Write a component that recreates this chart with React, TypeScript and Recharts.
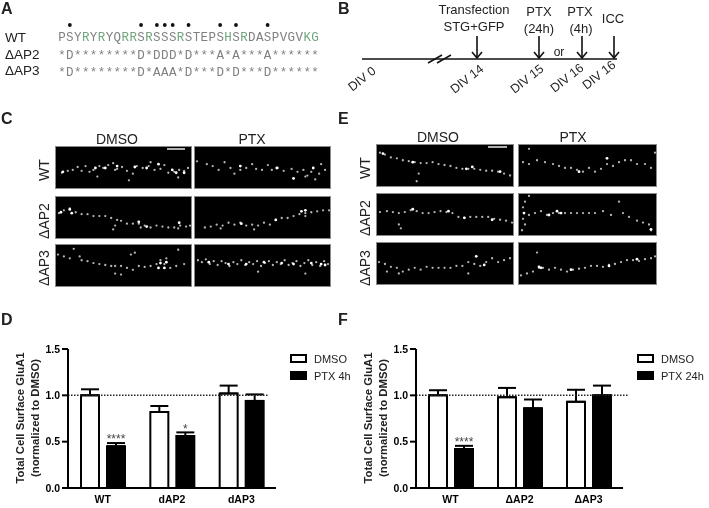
import { Bar, BarChart, ErrorBar, LabelList, Legend, ReferenceLine, Scatter, ScatterChart, XAxis, YAxis } from "recharts";

const FONT = "'Liberation Sans', Arial, sans-serif";

// panel A
const WT_SEQ = "PSYRYRYQRRSRSSSRSTEPSHSRDASPVGVKG";
const AP2_SEQ = "*D********D*DDD*D***A*A***A******";
const AP3_SEQ = "*D********D*AAA*D***D*D***D******";
const WT_GREEN = [3, 5, 8, 9, 11, 15, 21, 23, 31, 32];
const PHOSPHO_SITES = [1, 10, 12, 13, 14, 16, 20, 22, 26];

// panel D
const CATS_D = ["WT", "dAP2", "dAP3"];
const DMSO_D = [1.0, 0.82, 1.02];
const DMSO_ERR_D = [0.065, 0.065, 0.085];
const PTX_D = [0.45, 0.56, 0.94];
const PTX_ERR_D = [0.035, 0.04, 0.07];
const SIG_D = ["****", "*", ""];

// panel F
const CATS_F = ["WT", "ΔAP2", "ΔAP3"];
const DMSO_F = [1.0, 0.98, 0.93];
const DMSO_ERR_F = [0.055, 0.1, 0.13];
const PTX_F = [0.42, 0.86, 1.0];
const PTX_ERR_F = [0.035, 0.095, 0.105];
const SIG_F = ["****", "", ""];

const Y_TICKS = [0, 0.5, 1, 1.5];

// micrograph puncta in panel pixels
type Pt = number[];
const C_WT_DMSO: Pt[] = [[6,27],[12,25],[17,24],[22,21],[26,25],[30,20],[34,26],[38,24],[42,31],[44,20],[48,22],[53,19],[58,17],[62,23],[67,21],[72,25],[78,28],[82,20],[88,22],[94,20],[100,24],[106,23],[110,19],[114,27],[120,26],[125,24],[130,25],[134,22],[60,24],[96,16],[124,32],[74,35]];
const C_WT_DMSO_HI: Pt[] = [[7,26],[40,22],[50,22],[62,20],[80,21],[92,22],[104,18],[118,24],[122,27],[130,27]];
const C_WT_PTX: Pt[] = [[2,15],[12,18],[18,20],[24,24],[30,16],[36,22],[40,28],[46,24],[52,22],[58,18],[62,23],[68,24],[74,19],[78,24],[84,22],[90,25],[98,23],[104,26],[110,24],[114,30],[118,26],[122,34],[126,28],[128,18],[132,24],[112,31]];
const C_WT_PTX_HI: Pt[] = [[83,22],[120,22],[100,33],[46,20]];
const C_AP2_DMSO: Pt[] = [[3,17],[8,14],[14,12],[20,16],[26,18],[32,18],[38,20],[44,20],[50,20],[56,22],[62,24],[66,25],[72,28],[78,28],[84,28],[90,30],[96,32],[102,30],[108,31],[114,32],[120,32],[126,30],[132,31],[136,30],[60,30],[58,34],[86,32],[124,33]];
const C_AP2_DMSO_HI: Pt[] = [[14,13],[16,17],[84,26],[92,31],[125,27],[5,16]];
const C_AP2_PTX: Pt[] = [[10,32],[16,31],[22,29],[28,30],[34,27],[40,29],[46,27],[52,30],[58,29],[64,30],[70,27],[76,29],[82,24],[88,22],[94,22],[100,20],[106,18],[112,17],[118,16],[124,15],[130,14],[136,14],[26,33],[60,34],[112,20]];
const C_AP2_PTX_HI: Pt[] = [[47,28],[82,24],[108,15],[112,14]];
const C_AP3_DMSO: Pt[] = [[2,10],[8,12],[14,14],[18,4],[24,12],[26,16],[32,17],[38,19],[44,20],[50,21],[56,22],[60,22],[66,22],[72,24],[78,26],[84,22],[90,23],[96,22],[102,20],[106,16],[110,20],[112,14],[116,24],[122,22],[130,20],[80,8],[76,10],[60,30],[66,31],[124,5]];
const C_AP3_DMSO_HI: Pt[] = [[106,19],[110,24],[104,24],[112,18]];
const C_AP3_PTX: Pt[] = [[3,16],[7,18],[11,15],[15,20],[19,17],[23,21],[27,17],[31,19],[35,22],[39,18],[43,20],[47,16],[51,21],[55,18],[59,20],[63,17],[67,22],[71,19],[75,17],[79,21],[83,18],[87,20],[91,16],[95,21],[99,19],[103,17],[107,22],[111,19],[115,16],[119,21],[123,18],[127,22],[131,17],[135,20],[64,28],[112,30]];
const C_AP3_PTX_HI: Pt[] = [[14,18],[34,20],[52,20],[70,18],[88,19],[100,20],[118,19],[128,20],[132,21]];
const E_WT_DMSO: Pt[] = [[3,8],[8,10],[14,13],[20,14],[26,16],[32,17],[38,18],[44,19],[50,19],[56,18],[62,20],[68,21],[74,22],[80,24],[86,25],[92,25],[98,25],[104,26],[110,27],[116,27],[122,28],[128,30],[134,32],[42,30],[40,38]];
const E_WT_DMSO_HI: Pt[] = [[6,9],[36,18],[96,23],[124,28],[90,25]];
const E_WT_PTX: Pt[] = [[4,18],[10,20],[18,16],[26,18],[34,20],[40,22],[46,24],[52,24],[58,26],[64,28],[70,24],[76,28],[82,25],[88,20],[94,22],[100,18],[106,16],[112,16],[118,20],[126,20],[132,24],[10,4],[136,8]];
const E_WT_PTX_HI: Pt[] = [[60,28],[88,14]];
const E_AP2_DMSO: Pt[] = [[3,19],[10,18],[16,19],[22,20],[28,19],[34,17],[40,18],[46,20],[52,20],[58,19],[64,18],[70,19],[76,20],[82,24],[88,25],[94,24],[100,24],[106,24],[112,24],[118,26],[124,27],[130,28],[136,30],[22,32],[24,36]];
const E_AP2_DMSO_HI: Pt[] = [[36,16],[72,18],[88,25],[116,27]];
const E_AP2_PTX: Pt[] = [[10,2],[6,8],[4,14],[5,20],[4,26],[6,32],[3,38],[10,22],[16,20],[22,18],[28,22],[34,20],[40,20],[46,20],[52,20],[58,20],[64,20],[70,20],[76,20],[84,18],[92,22],[100,8],[104,20],[110,24],[118,28],[124,30],[130,32],[132,38]];
const E_AP2_PTX_HI: Pt[] = [[5,20],[30,22],[42,20],[38,18],[132,37]];
const E_AP3_DMSO: Pt[] = [[2,20],[8,22],[14,25],[20,26],[26,30],[32,28],[38,26],[44,28],[50,25],[56,26],[62,26],[68,26],[74,26],[80,24],[86,24],[92,20],[98,22],[104,24],[110,20],[116,16],[122,20],[128,18],[134,16],[10,30],[22,32],[92,32]];
const E_AP3_DMSO_HI: Pt[] = [[100,14],[108,23]];
const E_AP3_PTX: Pt[] = [[2,34],[8,32],[14,30],[20,26],[24,26],[30,28],[36,26],[42,28],[48,30],[54,28],[60,27],[66,26],[72,24],[78,24],[84,25],[90,23],[96,22],[102,20],[108,18],[114,18],[120,19],[126,17],[132,16],[136,14],[18,10]];
const E_AP3_PTX_HI: Pt[] = [[20,25],[22,26],[118,17],[52,28],[90,24]];

function Micrograph({ x, y, w, h, dim, hi }: { x: number; y: number; w: number; h: number; dim: Pt[]; hi: Pt[] }) {
  const toPts = (list: Pt[]) => list.map(([px, py]) => ({ px, py }));
  return (
    <div style={{ position: "absolute", left: x, top: y, width: w, height: h, boxSizing: "border-box", border: "1px solid #8a8a8a", background: "#000", overflow: "hidden" }}>
      <ScatterChart width={w - 2} height={h - 2} margin={{ top: 0, right: 0, bottom: 0, left: 0 }} style={{ filter: "blur(0.6px)" }}>
        <XAxis type="number" dataKey="px" domain={[0, 137]} hide />
        <YAxis type="number" dataKey="py" domain={[0, 43]} reversed hide />
        <Scatter data={toPts(dim)} shape={(p: any) => <circle cx={p.cx} cy={p.cy} r={1.15} fill="#b4b4b4" />} isAnimationActive={false} />
        <Scatter data={toPts(hi)} shape={(p: any) => <circle cx={p.cx} cy={p.cy} r={1.4} fill="#ffffff" />} isAnimationActive={false} />
      </ScatterChart>
    </div>
  );
}

function AsymLegend({ labels }: { labels: string[] }) {
  return (
    <div style={{ fontFamily: FONT, fontSize: 11, color: "#222" }}>
      {labels.map((label, i) => (
        <div key={label} style={{ display: "flex", alignItems: "center", height: 17, gap: 7 }}>
          <span style={{ width: 17, height: 9, boxSizing: "border-box", border: "2px solid #000", background: i === 0 ? "#fff" : "#000" }} />
          {label}
        </div>
      ))}
    </div>
  );
}

function SurfaceChart(props: {
  left: number; axisW: number; width: number; plotRight: number;
  cats: string[]; dmso: number[]; dmsoErr: number[]; ptx: number[]; ptxErr: number[]; sig: string[];
  ptxLabel: string; legendLeft: number; lineEnd: number;
}) {
  const { left, axisW, width, plotRight, cats, dmso, dmsoErr, ptx, ptxErr, sig, ptxLabel, legendLeft, lineEnd } = props;
  const rows = cats.map((cat, i) => ({
    cat,
    dmso: dmso[i],
    dmsoErr: [0, dmsoErr[i]],
    ptx: ptx[i],
    ptxErr: [0, ptxErr[i]],
    sig: sig[i],
  }));
  return (
    <div style={{ position: "absolute", left, top: 340 }}>
      <BarChart width={width} height={168} data={rows} barSize={18} barGap={8} margin={{ top: 9, right: width - plotRight, bottom: 0, left: 0 }}>
        <XAxis dataKey="cat" height={20} tickLine={false} axisLine={{ stroke: "#000", strokeWidth: 2 }} interval={0} tick={{ fill: "#000", fontSize: 10.5, fontWeight: 700, fontFamily: FONT }} />
        <YAxis width={axisW} domain={[0, 1.5]} ticks={Y_TICKS} tickFormatter={(v: number) => v.toFixed(1)} tickSize={6} tickLine={{ stroke: "#000", strokeWidth: 2 }} axisLine={{ stroke: "#000", strokeWidth: 2 }} tick={{ fill: "#000", fontSize: 10.5, fontWeight: 700, fontFamily: FONT }} />
        <Legend layout="horizontal" verticalAlign="middle" align="center" wrapperStyle={{ position: "absolute", left: legendLeft, top: 10, width: 80, height: 40 }} content={() => <AsymLegend labels={["DMSO", ptxLabel]} />} />
        <Bar dataKey="dmso" fill="#fff" stroke="#000" strokeWidth={2} isAnimationActive={false}>
          <ErrorBar dataKey="dmsoErr" direction="y" width={9} stroke="#000" strokeWidth={2} isAnimationActive={false} />
        </Bar>
        <Bar dataKey="ptx" fill="#000" stroke="#000" strokeWidth={2} isAnimationActive={false}>
          <ErrorBar dataKey="ptxErr" direction="y" width={9} stroke="#000" strokeWidth={2} isAnimationActive={false} />
          <LabelList dataKey="sig" position="top" offset={3} fill="#444" fontSize={12} fontFamily={FONT} />
        </Bar>
        <ReferenceLine y={1} shape={(p: any) => <line x1={p.x1} x2={lineEnd} y1={p.y1} y2={p.y2} stroke="#222" strokeWidth={1.5} strokeDasharray="1.5 1.5" />} />
      </BarChart>
    </div>
  );
}

function Rotated({ x, y, angle, size, bold, children }: { x: number; y: number; angle: number; size: number; bold?: boolean; children: string }) {
  return (
    <text x={x} y={y} transform={`rotate(${angle} ${x} ${y})`} textAnchor="middle" dominantBaseline="central" fontSize={size} fontWeight={bold ? 700 : 400} fill="#222">
      {children}
    </text>
  );
}

function Arrow({ x }: { x: number }) {
  return (
    <g stroke="#111" strokeWidth={1.6} fill="none">
      <line x1={x} x2={x} y1={36} y2={58} />
      <polyline points={`${x - 5},${52} ${x},${58} ${x + 5},${52}`} />
    </g>
  );
}

const PITCH = 7.91;
const SEQ_X = 58;

function SeqRow({ seq, y, green }: { seq: string; y: number; green?: number[] }) {
  return (
    <text y={y} fontFamily="'Liberation Mono', monospace" fontSize={12.5} textAnchor="middle">
      {seq.split("").map((ch, i) => (
        <tspan key={i} x={SEQ_X + PITCH * (i + 0.5)} fill={green?.includes(i) ? "#6fa67d" : "#808080"}>{ch}</tspan>
      ))}
    </text>
  );
}

export default function App() {
  return (
    <div style={{ position: "absolute", left: 0, top: 0, width: 709, height: 508, background: "#fff", overflow: "hidden", fontFamily: FONT, filter: "blur(0.3px)" }}>
      <Micrograph x={55} y={146} w={137} h={43} dim={C_WT_DMSO} hi={C_WT_DMSO_HI} />
      <Micrograph x={194} y={146} w={137} h={43} dim={C_WT_PTX} hi={C_WT_PTX_HI} />
      <Micrograph x={55} y={196} w={137} h={43} dim={C_AP2_DMSO} hi={C_AP2_DMSO_HI} />
      <Micrograph x={194} y={196} w={137} h={43} dim={C_AP2_PTX} hi={C_AP2_PTX_HI} />
      <Micrograph x={55} y={244} w={137} h={43} dim={C_AP3_DMSO} hi={C_AP3_DMSO_HI} />
      <Micrograph x={194} y={244} w={137} h={43} dim={C_AP3_PTX} hi={C_AP3_PTX_HI} />
      <Micrograph x={376} y={144} w={138} h={43} dim={E_WT_DMSO} hi={E_WT_DMSO_HI} />
      <Micrograph x={518} y={144} w={139} h={43} dim={E_WT_PTX} hi={E_WT_PTX_HI} />
      <Micrograph x={376} y={193} w={138} h={43} dim={E_AP2_DMSO} hi={E_AP2_DMSO_HI} />
      <Micrograph x={518} y={193} w={139} h={43} dim={E_AP2_PTX} hi={E_AP2_PTX_HI} />
      <Micrograph x={376} y={242} w={138} h={43} dim={E_AP3_DMSO} hi={E_AP3_DMSO_HI} />
      <Micrograph x={518} y={242} w={139} h={43} dim={E_AP3_PTX} hi={E_AP3_PTX_HI} />

      <SurfaceChart left={0} axisW={68} width={350} plotRight={276} cats={CATS_D} dmso={DMSO_D} dmsoErr={DMSO_ERR_D} ptx={PTX_D} ptxErr={PTX_ERR_D} sig={SIG_D} ptxLabel="PTX 4h" legendLeft={290} lineEnd={268} />
      <SurfaceChart left={350} axisW={66} width={359} plotRight={273} cats={CATS_F} dmso={DMSO_F} dmsoErr={DMSO_ERR_F} ptx={PTX_F} ptxErr={PTX_ERR_F} sig={SIG_F} ptxLabel="PTX 24h" legendLeft={287} lineEnd={278} />

      <svg width={709} height={508} style={{ position: "absolute", left: 0, top: 0, pointerEvents: "none" }} fontFamily={FONT}>
        {/* panel letters */}
        <g fontSize={16} fontWeight={700} fill="#222">
          <text x={1} y={14}>A</text>
          <text x={338} y={14}>B</text>
          <text x={1} y={124}>C</text>
          <text x={338} y={124}>E</text>
          <text x={1} y={325}>D</text>
          <text x={338} y={325}>F</text>
        </g>

        {/* panel A */}
        <g fontSize={13.5} fill="#222">
          <text x={5} y={42}>WT</text>
          <text x={5} y={59}>ΔAP2</text>
          <text x={5} y={75}>ΔAP3</text>
        </g>
        {PHOSPHO_SITES.map((i) => (
          <circle key={i} cx={SEQ_X + PITCH * (i + 0.5)} cy={25} r={1.9} fill="#111" />
        ))}
        <SeqRow seq={WT_SEQ} y={41} green={WT_GREEN} />
        <SeqRow seq={AP2_SEQ} y={59} />
        <SeqRow seq={AP3_SEQ} y={76} />

        {/* panel B */}
        <line x1={362} x2={617} y1={59} y2={59} stroke="#111" strokeWidth={1.6} />
        <line x1={428} x2={442} y1={63} y2={55} stroke="#111" strokeWidth={1.6} />
        <line x1={437} x2={451} y1={63} y2={55} stroke="#111" strokeWidth={1.6} />
        <Arrow x={477} />
        <Arrow x={539} />
        <Arrow x={582} />
        <Arrow x={614} />
        <g fontSize={13} fill="#222" textAnchor="middle">
          <text x={474} y={14}>Transfection</text>
          <text x={474} y={31}>STG+GFP</text>
          <text x={539} y={16}>PTX</text>
          <text x={539} y={33}>(24h)</text>
          <text x={580} y={16}>PTX</text>
          <text x={581} y={33}>(4h)</text>
          <text x={613} y={23}>ICC</text>
          <text x={559} y={56} fontSize={12}>or</text>
          <Rotated x={362} y={79} angle={-38} size={12.5}>DIV 0</Rotated>
          <Rotated x={467} y={79} angle={-38} size={12.5}>DIV 14</Rotated>
          <Rotated x={527} y={79} angle={-38} size={12.5}>DIV 15</Rotated>
          <Rotated x={567} y={78} angle={-38} size={12.5}>DIV 16</Rotated>
          <Rotated x={599} y={75} angle={-38} size={12.5}>DIV 16</Rotated>
        </g>

        {/* micrograph headers and row labels */}
        <g fontSize={14} fill="#222" textAnchor="middle">
          <text x={117} y={144}>DMSO</text>
          <text x={252} y={144}>PTX</text>
          <text x={438} y={142}>DMSO</text>
          <text x={573} y={142}>PTX</text>
          <Rotated x={44} y={170} angle={-90} size={14}>WT</Rotated>
          <Rotated x={44} y={221} angle={-90} size={14}>ΔAP2</Rotated>
          <Rotated x={44} y={268} angle={-90} size={14}>ΔAP3</Rotated>
          <Rotated x={365} y={168} angle={-90} size={14}>WT</Rotated>
          <Rotated x={365} y={218} angle={-90} size={14}>ΔAP2</Rotated>
          <Rotated x={365} y={268} angle={-90} size={14}>ΔAP3</Rotated>
        </g>
        <line x1={167} x2={185} y1={149} y2={149} stroke="#ddd" strokeWidth={1.6} />
        <line x1={488} x2={507} y1={147} y2={147} stroke="#ddd" strokeWidth={1.6} />

        {/* y axis titles */}
        <g textAnchor="middle">
          <Rotated x={20} y={418} angle={-90} size={11.3} bold>Total Cell Surface GluA1</Rotated>
          <Rotated x={35} y={418} angle={-90} size={11.3} bold>(normalized to DMSO)</Rotated>
          <Rotated x={368} y={418} angle={-90} size={11.3} bold>Total Cell Surface GluA1</Rotated>
          <Rotated x={383} y={418} angle={-90} size={11.3} bold>(normalized to DMSO)</Rotated>
        </g>
      </svg>
    </div>
  );
}
